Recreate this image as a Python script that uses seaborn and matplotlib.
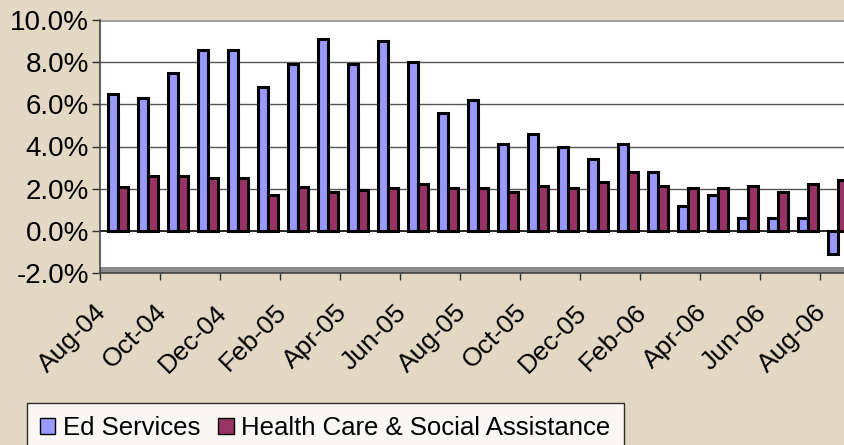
import matplotlib
matplotlib.use("Agg")
import matplotlib.pyplot as plt
import matplotlib.transforms as mtransforms
from matplotlib.patches import Patch
import seaborn as sns
import pandas as pd

# ======= Data =================================
months = ["Aug-04", "Sep-04", "Oct-04", "Nov-04", "Dec-04", "Jan-05", "Feb-05",
          "Mar-05", "Apr-05", "May-05", "Jun-05", "Jul-05", "Aug-05", "Sep-05",
          "Oct-05", "Nov-05", "Dec-05", "Jan-06", "Feb-06", "Mar-06", "Apr-06",
          "May-06", "Jun-06", "Jul-06", "Aug-06"]
ed_services = [6.5, 6.3, 7.5, 8.6, 8.6, 6.8, 7.9, 9.1, 7.9, 9.0, 8.0, 5.6, 6.2,
               4.1, 4.6, 4.0, 3.4, 4.1, 2.8, 1.2, 1.7, 0.6, 0.6, 0.6, -1.1]
health_care = [2.1, 2.6, 2.6, 2.5, 2.5, 1.7, 2.1, 1.85, 1.95, 2.05, 2.2, 2.05, 2.05,
               1.85, 2.15, 2.05, 2.3, 2.8, 2.15, 2.05, 2.05, 2.15, 1.85, 2.2, 2.4]
series_names = ["Ed Services", "Health Care & Social Assistance"]
colors = ["#9999FF", "#993366"]
y_ticks = [-2, 0, 2, 4, 6, 8, 10]

df = pd.DataFrame({
    "month": months * 2,
    "value": ed_services + health_care,
    "series": [series_names[0]] * len(months) + [series_names[1]] * len(months),
})

BG = "#E2D8C4"

fig = plt.figure(figsize=(8.44, 4.45), dpi=100, facecolor=BG)
ax = fig.add_axes([100 / 844, (445 - 273) / 445, 744 / 844, (273 - 20) / 445])
ax.set_facecolor("white")

# grid + floor
for t in y_ticks[2:]:
    ax.axhline(t, color="#555555", lw=1, zorder=0)
ax.axhspan(-2, -1.72, color="#8a8a8a", zorder=0.5, lw=0)
ax.axhline(0, color="black", lw=1.2, zorder=1)

sns.barplot(data=df, x="month", y="value", hue="series", order=months,
            hue_order=series_names, palette=colors, width=0.67,
            edgecolor="black", linewidth=2.2, saturation=1, legend=False,
            ax=ax, zorder=2)

ax.set_xlim(-0.6, 24.2)
ax.set_ylim(-2, 10)
ax.set_xlabel("")
ax.set_ylabel("")

ax.set_yticks(y_ticks)
ax.set_yticklabels([f"{t:.1f}%" for t in y_ticks], fontsize=20,
                   fontfamily="Liberation Sans")
ax.tick_params(axis="y", length=6, width=1, pad=2, color="#333333")

# labels every other month, tick marks on the group boundaries
ax.set_xticks(range(0, len(months), 2))
ax.set_xticklabels(months[::2], fontsize=19, fontfamily="Liberation Sans",
                   rotation=45, ha="right", va="center", rotation_mode="anchor")
ax.tick_params(axis="x", which="major", length=0, pad=4)
ax.set_xticks([k - 0.6 for k in range(0, len(months), 2)], minor=True)
ax.tick_params(axis="x", which="minor", length=5, width=1, color="#333333")
offset = mtransforms.ScaledTranslation(-0.15, -0.30, fig.dpi_scale_trans)
for lbl in ax.get_xticklabels():
    lbl.set_transform(lbl.get_transform() + offset)

for side in ["top", "right"]:
    ax.spines[side].set_visible(False)
ax.spines["left"].set_color("#444444")
ax.spines["bottom"].set_color("#444444")
ax.spines["left"].set_linewidth(1.2)
ax.spines["bottom"].set_linewidth(1.2)
ax.axhline(10, color="#999999", lw=2, zorder=1)

handles = [Patch(facecolor=c, edgecolor="black", lw=1) for c in colors]
leg = fig.legend(handles, series_names, loc="upper left",
                 bbox_to_anchor=(27 / 844, 1 - 403 / 445), ncol=2,
                 prop={"family": "Liberation Sans", "size": 18.5},
                 frameon=True, fancybox=False, edgecolor="black",
                 handlelength=0.6, handleheight=0.6, handletextpad=0.3,
                 columnspacing=0.7, borderpad=0.5, borderaxespad=0)
leg.get_frame().set_linewidth(1)

fig.savefig("out.png", dpi=100, facecolor=BG)
